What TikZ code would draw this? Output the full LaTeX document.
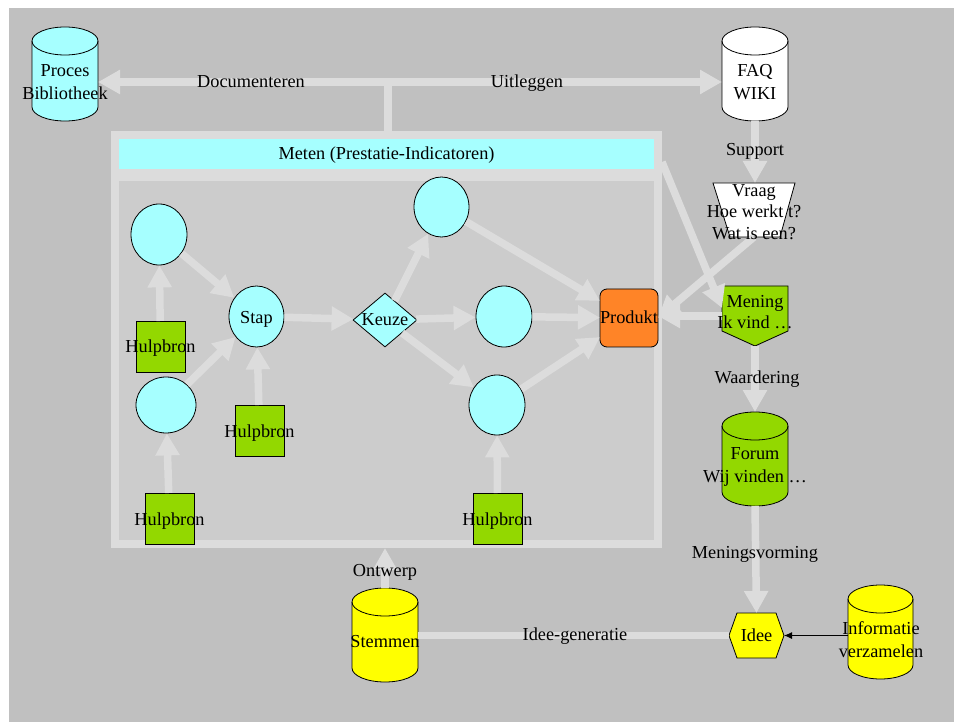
\documentclass[tikz,border=0pt]{standalone}
\usepackage{fontspec}
\setmainfont{Liberation Serif}
\usetikzlibrary{shapes.geometric,arrows.meta}
\definecolor{bgc}{HTML}{C0C0C0}
\definecolor{bandc}{HTML}{DCDCDC}
\definecolor{innerc}{HTML}{CCCCCC}
\definecolor{cyanc}{HTML}{A6FFFF}
\definecolor{greenc}{HTML}{93D800}
\definecolor{orangec}{HTML}{FF8427}
\definecolor{yellowc}{HTML}{FFFF00}
\newcommand\cylbody[5]{%
  \filldraw[shp, fill=#5] ({#1-#4},{#2+14}) -- ({#1-#4},{#3-14})
    arc[start angle=180, end angle=360, x radius=#4pt, y radius=14pt]
    -- ({#1+#4},{#2+14})
    arc[start angle=0, end angle=180, x radius=#4pt, y radius=14pt] -- cycle;
  \draw[shp] ({#1+#4},{#2+14}) arc[start angle=0, end angle=-180, x radius=#4pt, y radius=14pt];
}
\begin{document}
\begin{tikzpicture}[x=1pt, y=-1pt, font=\fontsize{18.3}{23}\selectfont,
  shp/.style={draw=black, line width=0.8pt},
  frame/.style 2 args={inner sep=0pt, outer sep=0pt, minimum width=#1, minimum height=#2},
  conn/.style={draw=bandc, line width=7.5pt, -{Triangle[length=22pt,width=23pt]}},
  plainline/.style={draw=bandc, line width=7.5pt},
  blob/.style 2 args={ellipse, shp, fill=cyanc, inner sep=0pt, minimum width=#1, minimum height=#2},
  hulp/.style={rectangle, shp, fill=greenc, frame={49}{51}},
  txt/.style={inner sep=0pt, align=center, text=black},
  one/.style={inner sep=0pt, text=black, text height=14pt, text depth=3pt},
  tight/.style={font=\fontsize{18.3}{21.5}\selectfont}]
\fill[white] (0,0) rectangle (954,722);
\useasboundingbox (0,0) rectangle (954,722);
\fill[bgc] (9,8) rectangle (954,722);

% container
\node[fill=bandc, frame={551}{417}] (box) at (386.5,339.5) {};
\node[fill=innerc, frame={535}{359}] (inner) at (386.5,360.5) {};
\node[fill=cyanc, frame={535}{30}] (meten) at (386.5,154) {};

% cylinders
\node[frame={66}{94}] (proc) at (65,74) {};
\cylbody{65}{27}{121}{33}{cyanc}
\node[frame={66}{94}] (faq) at (755,74) {};
\cylbody{755}{27}{121}{33}{white}
\node[frame={66}{94}] (forum) at (755,459) {};
\cylbody{755}{412}{506}{33}{greenc}
\node[frame={66}{94}] (stem) at (385,635) {};
\cylbody{385}{588}{682}{33}{yellowc}
\node[frame={65}{94}] (info) at (880.5,632) {};
\cylbody{880.5}{585}{679}{32.5}{yellowc}

% Vraag
\node[frame={82}{54}] (vraag) at (754,210) {};
\filldraw[shp, fill=white] (713,183) -- (795,183) -- (780,237) -- (730,237) -- cycle;
% Mening
\node[frame={66}{60}] (mening) at (755,316) {};
\filldraw[shp, fill=greenc] (722,286) -- (788,286) -- (788,331) -- (755,346) -- (722,331) -- cycle;
% Idee
\node[frame={55}{45}] (idee) at (756.5,635.5) {};
\filldraw[shp, fill=yellowc] (729,635.5) -- (737,613) -- (776,613) -- (784,635.5) -- (776,658) -- (737,658) -- cycle;
% Produkt
\node[rectangle, shp, fill=orangec, rounded corners=7pt, frame={58}{58}] (prod) at (629,318) {};

% inner process nodes
\node[blob={56}{61}] (ca) at (159,234.5) {};
\node[blob={55}{61}] (stap) at (256.5,316.5) {};
\node[blob={55}{60}] (cb) at (441.5,207) {};
\node[blob={60}{56}] (cc) at (166,405) {};
\node[blob={56}{61}] (cd) at (504,316.5) {};
\node[blob={56}{60}] (ce) at (497,405) {};
\node[diamond, shp, fill=cyanc, inner sep=0pt, minimum width=64, minimum height=54] (keuze) at (385,320) {};
\node[hulp] (h1) at (160.5,346.5) {};
\node[hulp] (h2) at (259.5,430.5) {};
\node[hulp] (h3) at (169.5,518.5) {};
\node[hulp] (h4) at (497.5,518.5) {};

% connectors
\coordinate (junction) at (388,82);
\draw[plainline] (junction |- box.north) -- (junction);
\draw[conn] (junction) -- (proc.east |- junction);
\draw[conn] (junction) -- (faq.west |- junction);
\draw[conn] (faq.south) -- (faq.south |- vraag.north);
\draw[conn] (vraag.south) -- (prod.east);
\draw[conn] ([yshift=-8pt]meten.east -| box.east) -- ([yshift=8pt]mening.west);
\draw[conn] (mening.west) -- (mening.west -| prod.east);
\draw[conn] (mening.south) -- (forum.north);
\draw[conn] (forum.south) -- (idee.north);
\draw[plainline] (stem.east |- idee.west) -- (idee.west);
\draw[conn] (stem.north) -- (stem.north |- box.south);
\draw[black, line width=0.9pt, -{Latex[length=8pt,width=7pt]}] (info.west |- idee.east) -- (idee.east);

\draw[conn] (h1) -- (ca);
\draw[conn] (ca) -- (stap);
\draw[conn] (cc) -- (stap);
\draw[conn] (h3) -- (cc);
\draw[conn] (h2) -- (stap);
\draw[conn] (stap) -- (keuze);
\draw[conn] (keuze) -- (cb);
\draw[conn] (keuze) -- (cd);
\draw[conn] (keuze) -- (ce);
\draw[conn] (cb) -- (prod);
\draw[conn] (cd) -- (prod);
\draw[conn] (ce) -- (prod);
\draw[conn] (h4) -- (ce);

% texts
\node[one] (t-meten) at (meten) {Meten (Prestatie-Indicatoren)};
\node[txt] (t-proc) at (65,82.5) {Proces\\Bibliotheek};
\node[txt] (t-faq) at (755,82) {FAQ\\WIKI};
\node[txt] (t-forum) at (755,467) {Forum\\Wij vinden \dots};
\node[txt] (t-info) at (881,640) {Informatie\\verzamelen};
\node[one] (t-stem) at (385,642) {Stemmen};
\node[txt, tight] (t-vraag) at (754,212) {Vraag\\Hoe werkt t?\\Wat is een?};
\node[txt, tight] (t-mening) at (755,312) {Mening\\Ik vind …};
\node[one] (t-idee) at (idee) {Idee};
\node[one] (t-prod) at (prod) {Produkt};
\node[one] (t-stap) at (256.5,318) {Stap};
\node[one] (t-keuze) at (keuze) {Keuze};
\node[one] (t-h1) at (160.5,347) {Hulpbron};
\node[one] (t-h2) at (259.5,432) {Hulpbron};
\node[one] (t-h3) at (169.5,520) {Hulpbron};
\node[one] (t-h4) at (497.5,520) {Hulpbron};
\node[one] (l-doc) at (251,82) {Documenteren};
\node[one] (l-uit) at (527,82) {Uitleggen};
\node[one] (l-sup) at (755,150) {Support};
\node[one] (l-waa) at (757,378) {Waardering};
\node[one] (l-men) at (755,553) {Meningsvorming};
\node[one] (l-idee) at (575,635) {Idee-generatie};
\node[one] (l-ont) at (385,571) {Ontwerp};
\end{tikzpicture}
\end{document}
